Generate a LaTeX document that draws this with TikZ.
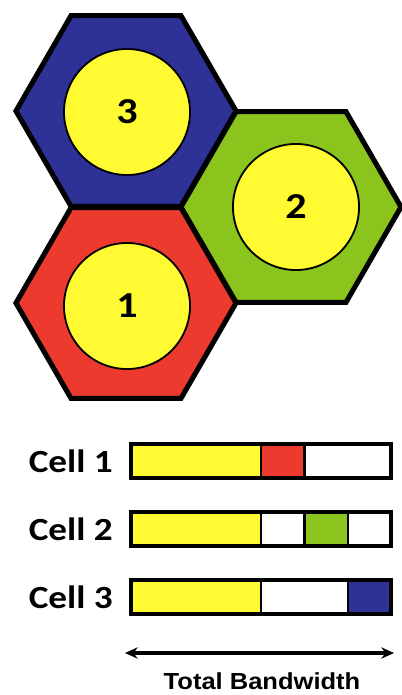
\documentclass[tikz,border=0pt]{standalone}
\usepackage{fontspec}
\newfontfamily\cellfont[FakeStretch=1.15]{Carlito}
\newfontfamily\bwfont[FakeStretch=1.1]{Liberation Sans}
\usetikzlibrary{shapes.geometric,arrows.meta,positioning}
\definecolor{cblue}{RGB}{46,49,150}
\definecolor{cred}{RGB}{236,58,46}
\definecolor{cgreen}{RGB}{140,196,30}
\definecolor{cyellow}{RGB}{255,250,50}

\begin{document}
\begin{tikzpicture}[x=0.025cm,y=-0.025cm,
    hexcell/.style={regular polygon,regular polygon sides=6,draw,line width=3.6pt,minimum size=5.5cm,inner sep=0pt,outer sep=0pt},
    reuse/.style={circle,draw,fill=cyellow,line width=1.3pt,minimum size=3.15cm,inner sep=0pt,font=\cellfont\bfseries\fontsize{26}{26}\selectfont},
    band/.style={draw,line width=1.6pt,minimum height=0.85cm,inner sep=0pt,outer sep=0pt,anchor=west},
    cname/.style={inner sep=0pt,font=\cellfont\bfseries\fontsize{23}{23}\selectfont}]
    \useasboundingbox (0,0) rectangle (401,695);

    % cells
    \node[hexcell,fill=cblue] (h3) at (126,111) {};
    \node[hexcell,fill=cred] (h1) at (126,303) {};
    \node[hexcell,fill=cgreen] (h2) at (291,207) {};
    \node[reuse] (c3) at (127,112) {3};
    \node[reuse] (c2) at (296,207) {2};
    \node[reuse] (c1) at (127,306) {1};

    % bandwidth bars
    \node[band,fill=cyellow,minimum width=3.25cm] (y1) at (131,461) {};
    \node[band,fill=cred,minimum width=1.0833cm] (r1) at (y1.east) {};
    \node[band,minimum width=2.1667cm] (w1) at (r1.east) {};

    \node[band,fill=cyellow,minimum width=3.25cm] (y2) at (131,529) {};
    \node[band,minimum width=1.0833cm] (a2) at (y2.east) {};
    \node[band,fill=cgreen,minimum width=1.0833cm] (g2) at (a2.east) {};
    \node[band,minimum width=1.0833cm] (b2) at (g2.east) {};

    \node[band,fill=cyellow,minimum width=3.25cm] (y3) at (131,597) {};
    \node[band,minimum width=2.1667cm] (w3) at (y3.east) {};
    \node[band,fill=cblue,minimum width=1.0833cm] (u3) at (w3.east) {};

    \draw[line width=2.6pt] (y1.north west) rectangle (w1.south east);
    \draw[line width=2.6pt] (y2.north west) rectangle (b2.south east);
    \draw[line width=2.6pt] (y3.north west) rectangle (u3.south east);

    \node[cname,left=0.45cm of y1] (l1) {Cell 1};
    \node[cname,left=0.45cm of y2] (l2) {Cell 2};
    \node[cname,left=0.45cm of y3] (l3) {Cell 3};

    \coordinate (bwl) at (125,653);
    \coordinate (bwr) at (394,653);
    \draw[{Stealth[length=9pt,width=8pt]}-{Stealth[length=9pt,width=8pt]},line width=2.2pt] (bwl) -- (bwr);
    \node[font=\bwfont\bfseries\fontsize{16.5}{16.5}\selectfont] (bw) at (262,681) {Total Bandwidth};
\end{tikzpicture}
\end{document}
